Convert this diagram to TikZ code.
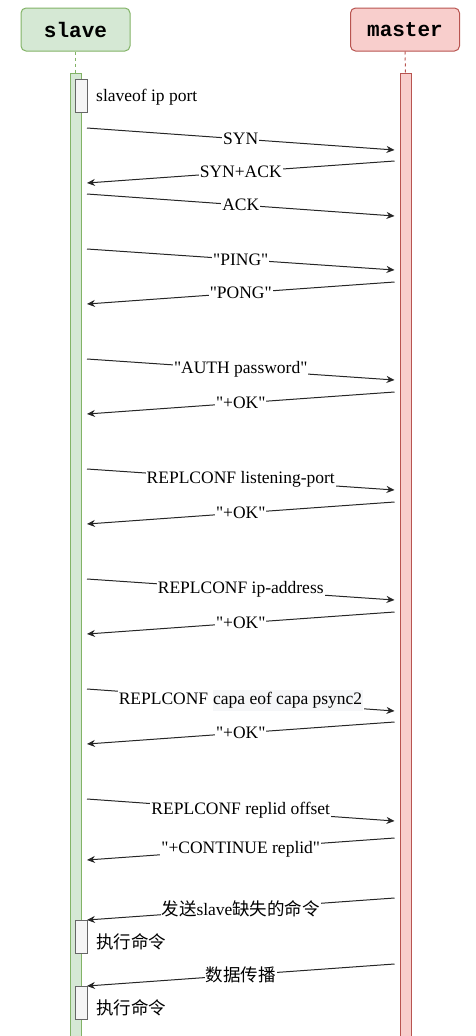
\documentclass[tikz,border=0pt]{standalone}
\usepackage{fontspec}
\setmainfont{Liberation Serif}
\setmonofont{Liberation Mono}
\newfontfamily\cjk{Noto Sans CJK SC}
\usetikzlibrary{arrows.meta, positioning}
\definecolor{slavefill}{HTML}{D5E8D4}
\definecolor{slavedraw}{HTML}{82B366}
\definecolor{masterfill}{HTML}{F8CECC}
\definecolor{masterdraw}{HTML}{B85450}
\definecolor{actfill}{HTML}{F5F5F5}
\definecolor{actdraw}{HTML}{666666}
\definecolor{hlgray}{HTML}{F5F6F8}
\newcommand{\hlbox}[1]{{\setlength{\fboxsep}{0.5pt}\colorbox{hlgray}{\strut #1}}}
\newcommand{\q}{\textquotedbl}
\tikzset{
  head/.style={
    rectangle, rounded corners=5pt, line width=1pt,
    minimum width=109pt, minimum height=43pt,
    font=\fontsize{21}{24}\selectfont\ttfamily\bfseries
  },
  lifebar/.style={
    rectangle, line width=1pt, inner sep=0pt,
    minimum width=11pt, minimum height=963pt
  },
  act/.style={
    rectangle, draw=actdraw, fill=actfill, line width=1pt,
    inner sep=0pt, minimum width=12pt, minimum height=33pt
  },
  life/.style={dashed, line width=1pt},
  msg/.style={-{Stealth[length=8pt,width=7pt]}, line width=1pt, draw=black!85},
  lbl/.style={fill=white, inner sep=1pt, font=\fontsize{17.5}{20}\selectfont},
  note/.style={inner sep=0pt, font=\fontsize{17.5}{20}\selectfont}
}

\begin{document}
\begin{tikzpicture}[x=1pt, y=-1pt]
  \useasboundingbox (0,0) rectangle (475,1036);

  % participants
  \node[head, fill=slavefill, draw=slavedraw] (slave) at (75.5,29.5) {slave};
  \node[head, fill=masterfill, draw=masterdraw] (master) at (405,29.5) {master};

  % lifelines
  \node[lifebar, fill=slavefill, draw=slavedraw] (slavebar) at (75.5,554.5) {};
  \node[lifebar, fill=masterfill, draw=masterdraw] (masterbar) at (405.5,554.5) {};
  \draw[life, draw=slavedraw] (slave.south) -- (slavebar.north);
  \draw[life, draw=masterdraw] (master.south) -- (masterbar.north);

  % activations on slave
  \node[act] (act1) at (81,95.5) {};
  \node[act] (act2) at (81,936.5) {};
  \node[act] (act3) at (81,1002.5) {};
  \node[note, anchor=base west] (cmd1) at (96,101.5) {slaveof ip port};
  \node[note, anchor=west] (cmd2) at (96,942) {\cjk 执行命令};
  \node[note, anchor=west] (cmd3) at (96,1008) {\cjk 执行命令};

  % message end points
  \foreach \n/\y in {s1/128, s2/183, s3/194, s4/249, s5/304, s6/359,
                     s7/414, s8/469, s9/524, s10/579, s11/634, s12/689,
                     s13/744, s14/799, s15/860, s16/920, s17/986}
    \coordinate (\n) at (87,\y);
  \foreach \n/\y in {m1/150, m2/161, m3/216, m4/270, m5/282, m6/380,
                     m7/392, m8/490, m9/502, m10/600, m11/612, m12/711,
                     m13/722, m14/821, m15/838, m16/898, m17/964}
    \coordinate (\n) at (394.5,\y);

  % handshake
  \draw[msg] (s1) -- node[lbl] (l1) {SYN} (m1);
  \draw[msg] (m2) -- node[lbl] (l2) {SYN+ACK} (s2);
  \draw[msg] (s3) -- node[lbl] (l3) {ACK} (m3);

  % replication setup
  \draw[msg] (s4) -- node[lbl] (l4) {\q PING\q} (m4);
  \draw[msg] (m5) -- node[lbl] (l5) {\q PONG\q} (s5);
  \draw[msg] (s6) -- node[lbl] (l6) {\q AUTH password\q} (m6);
  \draw[msg] (m7) -- node[lbl] (l7) {\q+OK\q} (s7);
  \draw[msg] (s8) -- node[lbl] (l8) {REPLCONF listening-port} (m8);
  \draw[msg] (m9) -- node[lbl] (l9) {\q+OK\q} (s9);
  \draw[msg] (s10) -- node[lbl] (l10) {REPLCONF ip-address} (m10);
  \draw[msg] (m11) -- node[lbl] (l11) {\q+OK\q} (s11);
  \draw[msg] (s12) -- node[lbl] (l12) {REPLCONF \hlbox{capa eof capa psync2}} (m12);
  \draw[msg] (m13) -- node[lbl] (l13) {\q+OK\q} (s13);
  \draw[msg] (s14) -- node[lbl] (l14) {REPLCONF replid offset} (m14);
  \draw[msg] (m15) -- node[lbl] (l15) {\q+CONTINUE replid\q} (s15);

  % sync and propagation
  \draw[msg] (m16) -- node[lbl] (l16) {{\cjk 发送}slave{\cjk 缺失的命令}} (s16);
  \draw[msg] (m17) -- node[lbl] (l17) {\cjk 数据传播} (s17);
\end{tikzpicture}
\end{document}
